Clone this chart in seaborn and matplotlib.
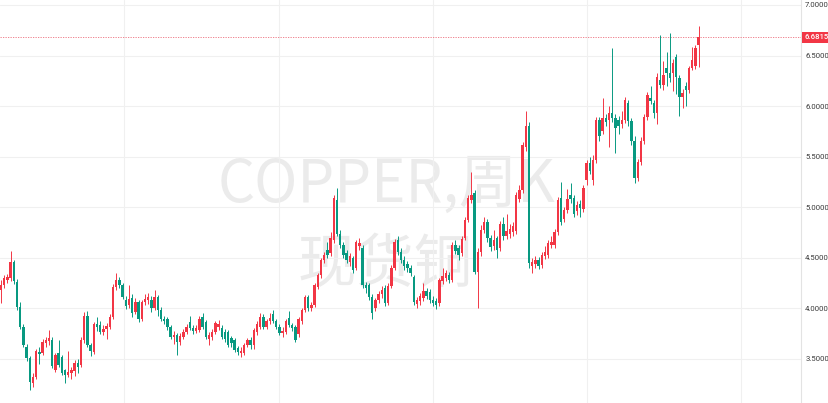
import numpy as np
import pandas as pd
import matplotlib
matplotlib.use("Agg")
import matplotlib.pyplot as plt
import matplotlib.transforms as mtransforms
import seaborn as sns

# weekly candles (spot copper)
opens = [4.18, 4.23, 4.28, 4.30, 4.46, 4.26, 4.01, 3.82, 3.62, 3.51,
         3.26, 3.32, 3.57, 3.56, 3.66, 3.68, 3.69, 3.39, 3.56, 3.52,
         3.39, 3.34, 3.36, 3.38, 3.46, 3.44, 3.69, 3.93, 3.64, 3.57,
         3.85, 3.84, 3.77, 3.80, 3.82, 3.92, 4.21, 4.28, 4.23, 4.08,
         4.03, 4.10, 3.96, 4.06, 3.90, 4.06, 4.08, 4.08, 4.00, 4.11,
         3.98, 3.90, 3.90, 3.82, 3.72, 3.74, 3.67, 3.72, 3.77, 3.87,
         3.81, 3.78, 3.79, 3.92, 3.87, 3.70, 3.72, 3.77, 3.82, 3.81,
         3.77, 3.77, 3.71, 3.69, 3.61, 3.56, 3.56, 3.64, 3.69, 3.64,
         3.77, 3.82, 3.92, 3.82, 3.88, 3.94, 3.88, 3.82, 3.76, 3.77,
         3.91, 3.84, 3.82, 3.75, 3.88, 3.98, 4.11, 4.00, 4.03, 4.21,
         4.33, 4.48, 4.58, 4.55, 4.68, 5.07, 4.74, 4.63, 4.55, 4.46,
         4.50, 4.40, 4.62, 4.60, 4.23, 4.23, 4.11, 4.00, 4.08, 4.14,
         4.20, 4.05, 4.22, 4.40, 4.68, 4.56, 4.48, 4.44, 4.40, 4.31,
         4.04, 4.07, 4.10, 4.17, 4.16, 4.08, 4.07, 4.05, 4.27, 4.30,
         4.33, 4.28, 4.63, 4.60, 4.55, 4.70, 4.87, 5.07, 5.14, 4.36,
         4.56, 4.78, 4.85, 4.70, 4.62, 4.70, 4.60, 4.83, 4.72, 4.74,
         4.76, 4.77, 5.08, 5.17, 5.60, 5.80, 4.42, 4.44, 4.48, 4.43,
         4.52, 4.53, 4.63, 4.63, 4.76, 5.09, 4.88, 4.97, 5.12, 5.09,
         4.96, 5.03, 4.98, 5.27, 5.44, 5.27, 5.47, 5.86, 5.75, 5.88,
         5.86, 5.93, 5.88, 5.86, 5.82, 5.86, 6.03, 5.85, 5.66, 5.29,
         5.45, 5.66, 5.89, 6.08, 6.03, 5.93, 6.26, 6.21, 6.38, 6.33,
         6.33, 6.49, 6.28, 6.09, 6.20, 6.16, 6.38, 6.40, 6.60]
highs = [4.28, 4.33, 4.34, 4.57, 4.48, 4.29, 4.06, 3.85, 3.65, 3.53,
         3.36, 3.60, 3.62, 3.70, 3.72, 3.79, 3.72, 3.56, 3.69, 3.54,
         3.40, 3.58, 3.42, 3.49, 3.50, 3.72, 3.96, 3.97, 3.66, 3.87,
         3.92, 3.88, 3.84, 3.86, 3.94, 4.24, 4.35, 4.31, 4.25, 4.12,
         4.23, 4.14, 4.10, 4.08, 4.08, 4.14, 4.15, 4.12, 4.18, 4.13,
         4.01, 3.93, 3.92, 3.84, 3.78, 3.76, 3.76, 3.80, 3.85, 3.93,
         3.84, 3.84, 3.93, 3.95, 3.89, 3.77, 3.80, 3.88, 3.89, 3.84,
         3.80, 3.79, 3.73, 3.71, 3.63, 3.62, 3.66, 3.71, 3.72, 3.81,
         3.88, 3.95, 3.94, 3.90, 3.95, 3.98, 3.90, 3.85, 3.82, 3.90,
         3.97, 3.86, 3.84, 3.92, 4.00, 4.13, 4.13, 4.06, 4.25, 4.35,
         4.50, 4.56, 4.66, 4.76, 5.12, 5.19, 4.78, 4.66, 4.58, 4.55,
         4.52, 4.68, 4.70, 4.63, 4.26, 4.25, 4.14, 4.10, 4.17, 4.22,
         4.23, 4.25, 4.43, 4.69, 4.72, 4.60, 4.52, 4.47, 4.43, 4.33,
         4.11, 4.15, 4.25, 4.20, 4.19, 4.12, 4.10, 4.30, 4.40, 4.38,
         4.36, 4.66, 4.68, 4.63, 4.72, 4.90, 5.12, 5.35, 5.17, 4.60,
         4.82, 4.90, 4.88, 4.73, 4.78, 4.72, 4.86, 4.90, 4.93, 4.83,
         4.85, 5.15, 5.22, 5.65, 5.95, 5.84, 4.50, 4.52, 4.51, 4.56,
         4.62, 4.68, 4.72, 4.79, 5.10, 5.25, 5.00, 5.18, 5.24, 5.12,
         5.06, 5.07, 5.22, 5.47, 5.50, 5.52, 5.89, 5.89, 6.08, 5.92,
         6.00, 6.57, 5.92, 5.90, 5.95, 6.09, 6.06, 5.88, 5.70, 5.48,
         5.69, 5.92, 6.14, 6.20, 6.06, 6.33, 6.70, 6.45, 6.53, 6.72,
         6.47, 6.52, 6.31, 6.17, 6.24, 6.40, 6.58, 6.60, 6.79]
lows = [4.05, 4.20, 4.25, 4.27, 4.24, 3.98, 3.80, 3.62, 3.48, 3.19,
        3.22, 3.30, 3.45, 3.54, 3.62, 3.64, 3.41, 3.37, 3.42, 3.34,
        3.26, 3.32, 3.30, 3.33, 3.36, 3.42, 3.66, 3.62, 3.53, 3.55,
        3.78, 3.75, 3.74, 3.70, 3.80, 3.90, 4.18, 4.20, 4.09, 3.99,
        4.00, 3.92, 3.94, 3.87, 3.88, 4.03, 4.04, 3.96, 3.98, 3.93,
        3.88, 3.85, 3.79, 3.70, 3.65, 3.54, 3.64, 3.70, 3.75, 3.79,
        3.75, 3.76, 3.77, 3.80, 3.70, 3.64, 3.69, 3.75, 3.79, 3.70,
        3.67, 3.62, 3.62, 3.57, 3.54, 3.52, 3.54, 3.62, 3.60, 3.60,
        3.74, 3.80, 3.80, 3.80, 3.85, 3.86, 3.80, 3.74, 3.72, 3.75,
        3.82, 3.78, 3.67, 3.72, 3.85, 3.96, 3.97, 3.97, 4.01, 4.19,
        4.30, 4.45, 4.50, 4.52, 4.65, 4.72, 4.60, 4.50, 4.45, 4.42,
        4.35, 4.38, 4.58, 4.20, 4.15, 4.08, 3.90, 3.97, 4.05, 4.10,
        4.02, 4.03, 4.20, 4.38, 4.53, 4.45, 4.38, 4.36, 4.32, 4.03,
        4.00, 4.03, 4.07, 4.09, 4.05, 4.02, 3.99, 4.02, 4.24, 4.27,
        4.25, 4.26, 4.54, 4.48, 4.52, 4.68, 4.85, 5.04, 4.34, 4.00,
        4.52, 4.75, 4.66, 4.57, 4.58, 4.50, 4.57, 4.68, 4.69, 4.70,
        4.72, 4.74, 5.05, 5.14, 5.56, 4.40, 4.35, 4.40, 4.39, 4.40,
        4.49, 4.50, 4.60, 4.60, 4.73, 4.82, 4.85, 4.94, 5.04, 4.90,
        4.92, 4.90, 4.95, 5.22, 5.33, 5.22, 5.44, 5.66, 5.72, 5.80,
        5.60, 5.84, 5.54, 5.72, 5.78, 5.83, 5.80, 5.62, 5.24, 5.26,
        5.42, 5.63, 5.86, 6.02, 5.88, 5.82, 6.18, 6.16, 6.20, 6.24,
        6.15, 6.12, 5.90, 5.98, 6.00, 6.13, 6.36, 6.37, 6.39]
closes = [4.23, 4.30, 4.31, 4.46, 4.27, 4.01, 3.82, 3.64, 3.51, 3.27,
          3.32, 3.58, 3.55, 3.67, 3.69, 3.71, 3.43, 3.54, 3.44, 3.36,
          3.34, 3.37, 3.39, 3.46, 3.42, 3.69, 3.93, 3.64, 3.58, 3.85,
          3.82, 3.77, 3.80, 3.83, 3.92, 4.21, 4.28, 4.23, 4.11, 4.02,
          4.09, 3.95, 4.06, 3.90, 4.06, 4.09, 4.11, 4.00, 4.11, 3.98,
          3.90, 3.88, 3.82, 3.72, 3.74, 3.67, 3.73, 3.77, 3.82, 3.81,
          3.78, 3.81, 3.90, 3.82, 3.72, 3.74, 3.77, 3.86, 3.85, 3.72,
          3.70, 3.64, 3.66, 3.59, 3.57, 3.58, 3.64, 3.69, 3.64, 3.79,
          3.85, 3.92, 3.82, 3.88, 3.91, 3.88, 3.82, 3.76, 3.78, 3.88,
          3.84, 3.81, 3.69, 3.90, 3.98, 4.11, 4.00, 4.03, 4.23, 4.33,
          4.48, 4.53, 4.53, 4.70, 5.09, 4.74, 4.63, 4.53, 4.48, 4.52,
          4.38, 4.66, 4.65, 4.23, 4.20, 4.11, 3.95, 4.08, 4.14, 4.18,
          4.05, 4.22, 4.40, 4.66, 4.56, 4.48, 4.42, 4.40, 4.35, 4.06,
          4.08, 4.12, 4.17, 4.12, 4.08, 4.05, 4.03, 4.28, 4.32, 4.35,
          4.28, 4.63, 4.57, 4.53, 4.69, 4.87, 5.09, 5.12, 4.36, 4.56,
          4.78, 4.85, 4.70, 4.61, 4.68, 4.58, 4.83, 4.72, 4.77, 4.79,
          4.81, 5.12, 5.17, 5.62, 5.80, 4.45, 4.46, 4.48, 4.42, 4.53,
          4.56, 4.65, 4.66, 4.76, 5.07, 4.85, 4.97, 5.08, 5.08, 4.93,
          5.02, 4.99, 5.19, 5.44, 5.36, 5.47, 5.86, 5.70, 5.88, 5.84,
          5.93, 5.88, 5.78, 5.80, 5.86, 6.06, 5.85, 5.66, 5.29, 5.45,
          5.66, 5.89, 6.11, 6.05, 5.93, 6.29, 6.21, 6.31, 6.33, 6.28,
          6.43, 6.29, 6.09, 6.13, 6.16, 6.38, 6.46, 6.57, 6.6815]

last_price = 6.6815
y_ticks = [3.5, 4.0, 4.5, 5.0, 5.5, 6.0, 6.5, 7.0]
title_text = "COPPER,周K"
name_text = "现货铜"

UP = "#F23645"
DOWN = "#089981"

df = pd.DataFrame({"open": opens, "high": highs, "low": lows, "close": closes})
df["week"] = np.arange(len(df))
df["up"] = df["close"] >= df["open"]
df["color"] = np.where(df["up"], UP, DOWN)
df["body_lo"] = df[["open", "close"]].min(axis=1)
df["body_h"] = (df["close"] - df["open"]).abs().clip(lower=0.008)

sns.set_theme(style="white")
plt.rcParams["font.family"] = ["Noto Sans CJK SC", "DejaVu Sans"]

fig = plt.figure(figsize=(8.29, 4.03), dpi=100)
ax = fig.add_axes([0, 0, 801 / 829, 1])

# watermark behind the candles
ax.text(0.483, 0.541, title_text, transform=ax.transAxes, ha="center", va="center",
        fontsize=42, fontweight="light", color="#ebebeb", zorder=0)
ax.text(0.481, 0.342, name_text, transform=ax.transAxes, ha="center", va="center",
        fontsize=42, fontweight="light", color="#ebebeb", zorder=0)

ax.vlines(df["week"], df["low"], df["high"], colors=df["color"], linewidth=0.7, zorder=2)
ax.bar(df["week"], df["body_h"], bottom=df["body_lo"], width=0.72,
       color=df["color"], linewidth=0, zorder=3)

# last price line + label
ax.axhline(last_price, color="#ec6f7d", linestyle=(0, (1.5, 1.5)), linewidth=0.6, zorder=1)
trans = mtransforms.blended_transform_factory(ax.transAxes, ax.transData)
ax.text(1.0045, last_price, f"{last_price:.4f}", transform=trans, ha="left", va="center",
        fontsize=5.6, family="Roboto", fontweight="medium", color="white",
        clip_on=False, zorder=5,
        bbox=dict(boxstyle="square,pad=0.32", fc=UP, ec="none"))

ax.set_xlim(-0.3125, 250)
ax.set_ylim(3.065, 7.049)
ax.set_xticks([38.4, 86.8, 135.0, 183.1, 231.2])
ax.set_xticklabels([])
ax.set_yticks(y_ticks)
ax.set_yticklabels([f"{v:.4f}" for v in y_ticks], family="Roboto")
ax.yaxis.tick_right()
ax.tick_params(axis="y", length=0, pad=3, labelsize=5.6, labelcolor="#3a3a3a")
ax.tick_params(axis="x", length=0)
ax.grid(True, color="#f0f0f0", linewidth=0.8)
ax.set_axisbelow(True)
for side in ["top", "left", "bottom"]:
    ax.spines[side].set_visible(False)
ax.spines["right"].set_color("#e3e3e3")
ax.spines["right"].set_linewidth(0.8)

fig.savefig("out.png", dpi=100)
